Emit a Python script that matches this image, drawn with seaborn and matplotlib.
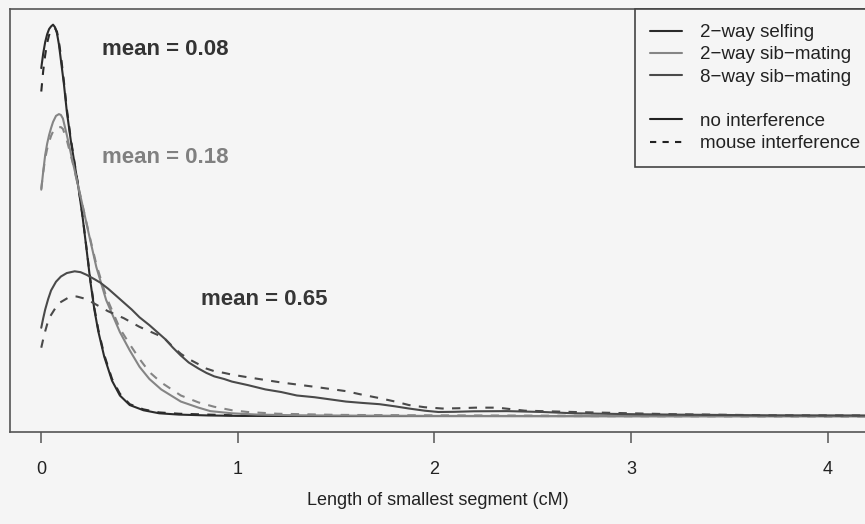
import matplotlib
matplotlib.use("Agg")
import matplotlib.pyplot as plt
import pandas as pd
import seaborn as sns
from matplotlib.lines import Line2D

# Density of the smallest segment length (cM) for three crossing designs,
# without crossover interference (solid) and with mouse-like interference (dashed).

x_self_no = [0, .01, .02, .03, .04, .05, .06, .07, .08, .09, .10, .115, .13, .15, .17, .19,
             .21, .23, .25, .27, .29, .32, .36, .40, .45, .52, .60, .70, .85, 1.0, 1.5, 2.0, 3.0, 4.2]
y_self_no = [4.01, 4.18, 4.31, 4.40, 4.46, 4.49, 4.51, 4.48, 4.41, 4.28, 4.10, 3.83, 3.51, 3.18,
             2.90, 2.62, 2.30, 1.93, 1.55, 1.23, 0.98, 0.69, 0.41, 0.24, 0.13, 0.07, 0.035, 0.02,
             0.01, 0.005, 0.003, 0.003, 0.002, 0.002]

x_self_mouse = [0, .01, .02, .03, .04, .05, .06, .07, .08, .09, .10, .115, .13, .15, .17, .19,
                .21, .23, .25, .27, .29, .32, .36, .40, .45, .52, .60, .70, .85, 1.0, 1.5, 2.0, 3.0, 4.2]
y_self_mouse = [3.74, 3.98, 4.16, 4.30, 4.39, 4.45, 4.47, 4.47, 4.43, 4.31, 4.15, 3.86, 3.54, 3.20,
                2.91, 2.63, 2.31, 1.94, 1.57, 1.25, 1.00, 0.71, 0.43, 0.26, 0.14, 0.08, 0.045, 0.03,
                0.02, 0.01, 0.006, 0.005, 0.003, 0.002]

x_sib2_no = [0, .01, .02, .03, .04, .05, .06, .075, .09, .10, .11, .13, .16, .20, .24, .28, .33,
             .40, .45, .50, .55, .61, .71, .80, .86, .97, 1.1, 1.3, 1.6, 2.0, 3.0, 4.2]
y_sib2_no = [2.61, 2.82, 3.01, 3.14, 3.24, 3.32, 3.39, 3.46, 3.48, 3.47, 3.43, 3.24, 2.93, 2.53,
             2.12, 1.72, 1.34, 0.97, 0.76, 0.57, 0.43, 0.31, 0.17, 0.10, 0.06, 0.035, 0.02, 0.012,
             0.008, 0.005, 0.003, 0.002]

x_sib2_mouse = [0, .01, .02, .03, .04, .05, .06, .075, .09, .10, .11, .13, .16, .20, .24, .28, .33,
                .40, .45, .50, .55, .61, .71, .80, .88, .97, 1.05, 1.2, 1.5, 2.0, 3.0, 4.2]
y_sib2_mouse = [2.62, 2.81, 2.97, 3.08, 3.16, 3.23, 3.28, 3.32, 3.33, 3.33, 3.31, 3.18, 2.92, 2.53,
                2.13, 1.75, 1.38, 1.01, 0.83, 0.66, 0.51, 0.39, 0.24, 0.16, 0.11, 0.07, 0.05, 0.03,
                0.017, 0.01, 0.005, 0.003]

x_sib8_no = [0, .01, .02, .035, .05, .075, .10, .13, .17, .20, .23, .27, .30, .34, .38, .42, .46,
             .50, .55, .59, .63, .67, .71, .75, .80, .84, .88, .93, .97, 1.05, 1.14, 1.22, 1.30,
             1.39, 1.47, 1.55, 1.63, 1.72, 1.80, 1.87, 1.95, 2.02, 2.1, 2.2, 2.37, 2.55, 2.71,
             3.0, 3.2, 3.7, 4.2]
y_sib8_no = [1.02, 1.13, 1.23, 1.35, 1.45, 1.55, 1.61, 1.65, 1.67, 1.66, 1.63, 1.58, 1.54, 1.47,
             1.39, 1.31, 1.23, 1.14, 1.05, 0.97, 0.89, 0.79, 0.70, 0.62, 0.55, 0.50, 0.46, 0.43,
             0.40, 0.36, 0.31, 0.28, 0.24, 0.22, 0.195, 0.17, 0.155, 0.14, 0.115, 0.09, 0.065,
             0.05, 0.052, 0.058, 0.06, 0.05, 0.035, 0.025, 0.02, 0.012, 0.01]

x_sib8_mouse = [0, .01, .02, .03, .045, .07, .095, .14, .18, .23, .30, .34, .38, .42, .46, .50,
                .55, .59, .63, .67, .71, .75, .80, .84, .88, .93, .97, 1.05, 1.22, 1.39, 1.55,
                1.63, 1.72, 1.80, 1.87, 1.95, 2.04, 2.12, 2.21, 2.32, 2.40, 2.46, 2.71, 3.0, 3.2,
                3.71, 4.2]
y_sib8_mouse = [0.79, 0.89, 0.98, 1.06, 1.15, 1.24, 1.31, 1.37, 1.38, 1.35, 1.26, 1.21, 1.17,
                1.13, 1.08, 1.03, 0.98, 0.94, 0.89, 0.80, 0.72, 0.66, 0.60, 0.55, 0.52, 0.50,
                0.48, 0.45, 0.39, 0.34, 0.29, 0.25, 0.21, 0.17, 0.13, 0.105, 0.09, 0.093, 0.10,
                0.10, 0.08, 0.065, 0.05, 0.035, 0.025, 0.012, 0.01]

designs = ["2\u2212way selfing", "2\u2212way sib\u2212mating", "8\u2212way sib\u2212mating"]
models = ["no interference", "mouse interference"]
mean_labels = ["mean = 0.08", "mean = 0.18", "mean = 0.65"]

BG = "#f5f5f5"
design_colors = ["#2b2b2b", "#858585", "#4a4a4a"]
text_colors = ["#333333", "#808080", "#363636"]
model_styles = ["-", (0, (4, 4))]
legend_styles = ["-", (0, (3, 3))]

series = [
    (0, 0, x_self_no, y_self_no), (0, 1, x_self_mouse, y_self_mouse),
    (1, 0, x_sib2_no, y_sib2_no), (1, 1, x_sib2_mouse, y_sib2_mouse),
    (2, 0, x_sib8_no, y_sib8_no), (2, 1, x_sib8_mouse, y_sib8_mouse),
]

sns.set_theme(style="white")
plt.rcParams["font.family"] = ["Liberation Sans", "DejaVu Sans"]

fig = plt.figure(figsize=(8.65, 5.24), dpi=100, facecolor=BG)
ax = fig.add_axes([10 / 865, 92 / 524, 855 / 865, 423 / 524])
ax.set_facecolor(BG)

for d, m, xs, ys in series:
    df = pd.DataFrame({"length": xs, "density": ys})
    sns.lineplot(data=df, x="length", y="density", ax=ax, color=design_colors[d],
                 linestyle=model_styles[m], linewidth=1.5, sort=False, estimator=None)

ymax = max(max(s[3]) for s in series)
ax.set_ylim(-0.04 * ymax, 1.04 * ymax)
ax.set_xlim(-0.159, 4.19)

# mean annotations beside each curve family
ann_pos = [(0.31, 4.22), (0.31, 2.98), (0.81, 1.34)]
for (tx, ty), lab, col in zip(ann_pos, mean_labels, text_colors):
    ax.text(tx, ty, lab, fontsize=16, fontweight="bold", color=col, ha="left", va="center")

ax.set_xticks([0, 1, 2, 3, 4])
ax.set_xticklabels(["0", "1", "2", "3", "4"])
ax.set_yticks([])
ax.tick_params(axis="x", bottom=True, length=8, width=1.1, color="#555555", pad=13,
               labelsize=13, labelcolor="#222222")
ax.set_xlabel("Length of smallest segment (cM)", fontsize=13, labelpad=10, color="#222222")
ax.set_ylabel("")
for side in ["left", "top", "bottom"]:
    ax.spines[side].set_color("#555555")
    ax.spines[side].set_linewidth(1.2)
ax.spines["right"].set_visible(False)

handles = [Line2D([], [], color=c, lw=1.5) for c in design_colors]
handles.append(Line2D([], [], color="none"))
handles += [Line2D([], [], color="#222222", lw=1.5, linestyle=s) for s in legend_styles]
labels = designs + [" "] + models
leg = fig.legend(handles, labels, loc="upper left", bbox_to_anchor=(635 / 865, 1 - 9 / 524),
                 bbox_transform=fig.transFigure, borderaxespad=0, fontsize=13.5,
                 handlelength=1.7, handletextpad=0.95, labelspacing=0.27, borderpad=0.8,
                 fancybox=False, framealpha=1, facecolor=BG, edgecolor="#444444",
                 labelcolor="#222222")
leg.get_frame().set_linewidth(1.2)

fig.savefig("out.png", dpi=100, facecolor=BG)
